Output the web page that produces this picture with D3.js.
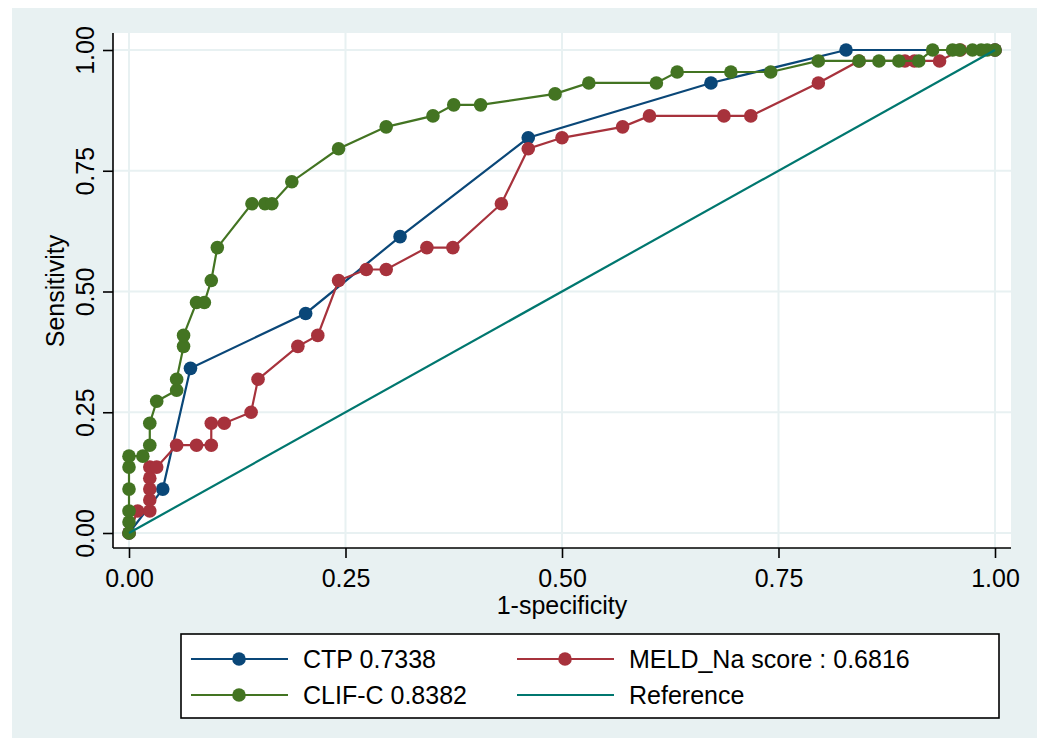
<!DOCTYPE html>
<html>
<head>
<meta charset="utf-8">
<script src="https://cdn.jsdelivr.net/npm/d3@7"></script>
<style>
    body{margin:0;background:#fff;}
    text{font-family:"Liberation Sans", Arial, sans-serif;fill:#000;}
</style>
</head>
<body>
<div id="chart"></div>
<script>
(function(){
    'use strict';

    // ROC points, sensitivity in 44ths
    var ctpX = [0, 0.039, 0.071, 0.204, 0.313, 0.461, 0.672, 0.828, 1];
    var ctpY = [0, 0.0909, 0.3409, 0.4545, 0.6136, 0.8182, 0.9318, 1, 1];

    var meldX = [0, 0.010, 0.024, 0.024, 0.024, 0.024, 0.024, 0.032, 0.055, 0.078, 0.095, 0.095,
        0.110, 0.141, 0.149, 0.195, 0.218, 0.242, 0.274, 0.297, 0.344, 0.374, 0.430, 0.461,
        0.500, 0.570, 0.601, 0.687, 0.718, 0.796, 0.843, 0.896, 0.907, 0.936, 0.960, 1];
    var meldY = [0, 0.0455, 0.0455, 0.0682, 0.0909, 0.1136, 0.1364, 0.1364, 0.1818, 0.1818, 0.1818, 0.2273,
        0.2273, 0.2500, 0.3182, 0.3864, 0.4091, 0.5227, 0.5455, 0.5455, 0.5909, 0.5909, 0.6818, 0.7955,
        0.8182, 0.8409, 0.8636, 0.8636, 0.8636, 0.9318, 0.9773, 0.9773, 0.9773, 0.9773, 1, 1];

    var clifX = [0, 0, 0, 0, 0, 0, 0.016, 0.024, 0.024, 0.032, 0.055, 0.055, 0.063, 0.063,
        0.078, 0.087, 0.095, 0.102, 0.142, 0.157, 0.165, 0.188, 0.242, 0.297, 0.351, 0.375,
        0.406, 0.492, 0.531, 0.609, 0.633, 0.695, 0.741, 0.796, 0.843, 0.866, 0.889, 0.912,
        0.928, 0.951, 0.959, 0.974, 0.984, 0.991, 1];
    var clifY = [0, 0.0227, 0.0455, 0.0909, 0.1364, 0.1591, 0.1591, 0.1818, 0.2273, 0.2727, 0.2955, 0.3182, 0.3864, 0.4091,
        0.4773, 0.4773, 0.5227, 0.5909, 0.6818, 0.6818, 0.6818, 0.7273, 0.7955, 0.8409, 0.8636, 0.8864,
        0.8864, 0.9091, 0.9318, 0.9318, 0.9545, 0.9545, 0.9545, 0.9773, 0.9773, 0.9773, 0.9773, 0.9773,
        1, 1, 1, 1, 1, 1, 1];

    var refX = [0, 1];
    var refY = [0, 1];

    var ticks = [0, 0.25, 0.5, 0.75, 1];
    var tickLabels = ['0.00', '0.25', '0.50', '0.75', '1.00'];

    var legendLabels = ['CTP 0.7338', 'MELD_Na score : 0.6816', 'CLIF-C 0.8382', 'Reference'];

    var blue = '#0a4778', red = '#a7323c', green = '#437422', teal = '#00776f', bg = '#e8f1f2';
    var fs = '25px';

    var W = 1043, H = 745;
    var plot = {left: 113, top: 33, right: 1011, bottom: 548};

    var x = d3.scaleLinear().domain([0, 1]).range([129, 995]);
    var y = d3.scaleLinear().domain([0, 1]).range([533, 50]);

    var svg = d3.select('#chart').append('svg')
        .attr('width', W).attr('height', H);

    svg.append('rect').attr('width', W).attr('height', H).attr('fill', '#fff');
    svg.append('rect').attr('x', 12).attr('y', 8).attr('width', 1025).attr('height', 730).attr('fill', bg);
    svg.append('rect')
        .attr('x', plot.left).attr('y', plot.top)
        .attr('width', plot.right - plot.left).attr('height', plot.bottom - plot.top)
        .attr('fill', '#fff');

    // grid
    svg.append('g').selectAll('line').data(ticks).enter().append('line')
        .attr('x1', plot.left).attr('x2', plot.right)
        .attr('y1', function(d){return y(d);}).attr('y2', function(d){return y(d);})
        .attr('stroke', bg).attr('stroke-width', 2);
    svg.append('g').selectAll('line').data(ticks).enter().append('line')
        .attr('y1', plot.top).attr('y2', plot.bottom)
        .attr('x1', function(d){return x(d);}).attr('x2', function(d){return x(d);})
        .attr('stroke', bg).attr('stroke-width', 2);

    // axes
    var yAxis = d3.axisLeft(y).tickValues(ticks).tickSize(10).tickSizeOuter(0)
        .tickFormat(function(d, i){return tickLabels[i];});
    var gy = svg.append('g').attr('transform', 'translate(' + plot.left + ',0)').call(yAxis);
    gy.select('.domain').attr('d', 'M0,' + plot.top + 'V' + plot.bottom);
    gy.selectAll('text').attr('transform', 'rotate(-90)')
        .attr('x', 0).attr('y', -19)
        .attr('dy', 0).attr('text-anchor', 'middle');

    var xAxis = d3.axisBottom(x).tickValues(ticks).tickSize(10).tickSizeOuter(0)
        .tickFormat(function(d, i){return tickLabels[i];});
    var gx = svg.append('g').attr('transform', 'translate(0,' + plot.bottom + ')').call(xAxis);
    gx.select('.domain').attr('d', 'M' + plot.left + ',0H' + plot.right);
    gx.selectAll('text').attr('y', 39).attr('dy', 0);

    svg.selectAll('.domain, .tick line').attr('stroke', '#000').attr('stroke-width', 1.6);
    svg.selectAll('.tick text').style('font-size', fs).style('font-family', '"Liberation Sans", Arial, sans-serif').attr('fill', '#000');

    svg.append('text').attr('x', 562).attr('y', 614).attr('text-anchor', 'middle')
        .style('font-size', fs).text('1-specificity');
    svg.append('text').attr('transform', 'translate(64,291) rotate(-90)').attr('text-anchor', 'middle')
        .style('font-size', fs).text('Sensitivity');

    function zip(xs, ys){
        return xs.map(function(v, i){return [v, ys[i]];});
    }

    var line = d3.line().x(function(d){return x(d[0]);}).y(function(d){return y(d[1]);});

    function drawSeries(xs, ys, color, markers){
        var pts = zip(xs, ys);
        var g = svg.append('g');
        g.append('path').datum(pts).attr('d', line)
            .attr('fill', 'none').attr('stroke', color).attr('stroke-width', 2.2);
        if(markers){
            g.selectAll('circle').data(pts).enter().append('circle')
                .attr('cx', function(d){return x(d[0]);})
                .attr('cy', function(d){return y(d[1]);})
                .attr('r', 6.8).attr('fill', color);
        }
    }

    drawSeries(ctpX, ctpY, blue, true);
    drawSeries(meldX, meldY, red, true);
    drawSeries(clifX, clifY, green, true);
    drawSeries(refX, refY, teal, false);

    // legend
    var lg = svg.append('g');
    lg.append('rect').attr('x', 181).attr('y', 634).attr('width', 818).attr('height', 84)
        .attr('fill', '#fff').attr('stroke', '#000').attr('stroke-width', 1.6);
    var items = [
        {label: legendLabels[0], color: blue, col: 0, row: 0, marker: true},
        {label: legendLabels[1], color: red, col: 1, row: 0, marker: true},
        {label: legendLabels[2], color: green, col: 0, row: 1, marker: true},
        {label: legendLabels[3], color: teal, col: 1, row: 1, marker: false}
    ];
    var colX = [191, 517], rowY = [659, 695];
    items.forEach(function(it){
        var x0 = colX[it.col], yy = rowY[it.row];
        lg.append('line').attr('x1', x0).attr('x2', x0 + 97).attr('y1', yy).attr('y2', yy)
            .attr('stroke', it.color).attr('stroke-width', 2.2);
        if(it.marker){
            lg.append('circle').attr('cx', x0 + 48).attr('cy', yy).attr('r', 6.8).attr('fill', it.color);
        }
        lg.append('text').attr('x', x0 + 112).attr('y', yy + 9)
            .style('font-size', fs).text(it.label);
    });
}());
</script>
</body>
</html>
